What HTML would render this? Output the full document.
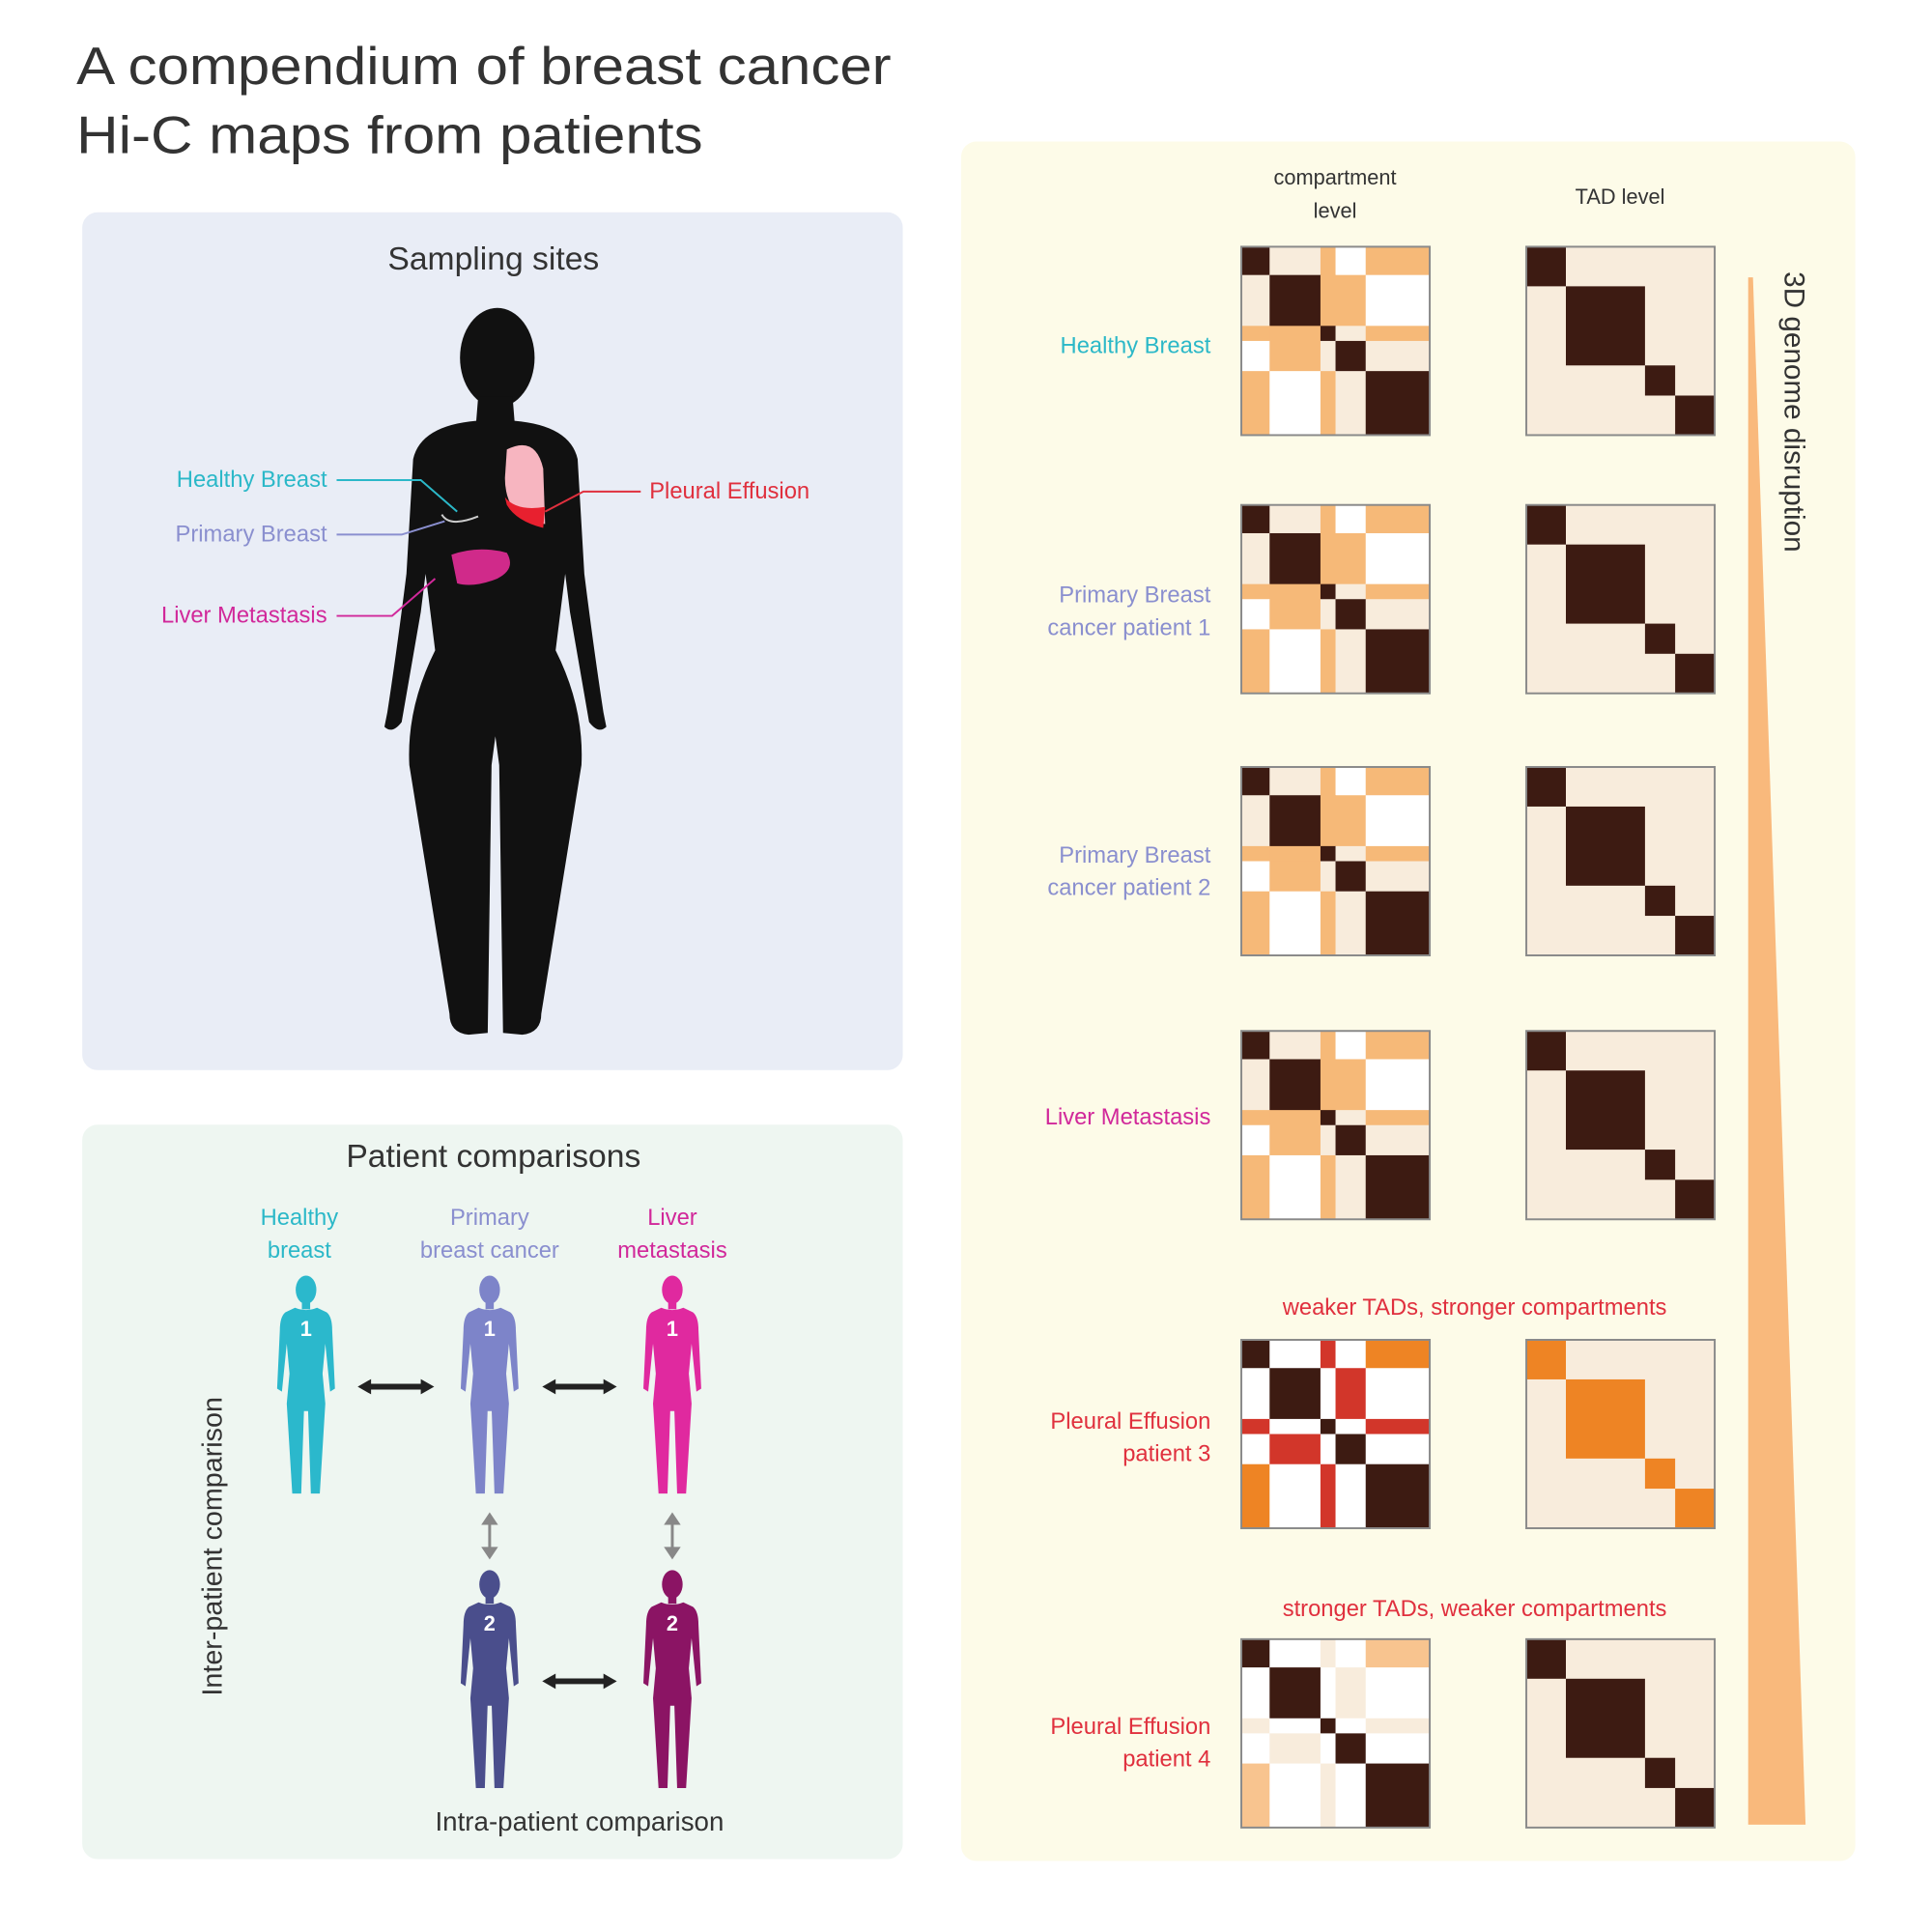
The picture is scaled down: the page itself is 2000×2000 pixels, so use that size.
<!DOCTYPE html>
<html><head><meta charset="utf-8"><style>
html,body{margin:0;padding:0;background:#fff;}
svg{display:block;font-family:"Liberation Sans",sans-serif;}
</style></head><body>
<svg id="s" width="2000" height="2000" viewBox="0 0 2000 2000" xmlns="http://www.w3.org/2000/svg">
<defs>
<symbol id="p" viewBox="0 0 100 300" preserveAspectRatio="none">
<ellipse cx="50" cy="20" rx="15" ry="19"/>
<rect x="44" y="34" width="12" height="12"/>
<path d="M34 44 Q50 50 66 44 L80 50 Q88 56 88 74 L92 152 L85 156 L78 92 L74 132 L78 172 L70 292 L57 292 L53 182 L47 182 L43 292 L30 292 L22 172 L26 132 L22 92 L15 156 L8 152 L12 74 Q12 56 20 50 Z"/>
</symbol>
</defs>
<g transform="scale(0.99)">
<text x="80" y="88" font-size="55" fill="#333" textLength="852" lengthAdjust="spacingAndGlyphs">A compendium of breast cancer</text>
<text x="80" y="160" font-size="55" fill="#333" textLength="655" lengthAdjust="spacingAndGlyphs">Hi-C maps from patients</text>

<rect x="86" y="222" width="858" height="897" rx="16" fill="#e9edf6"/>
<rect x="86" y="1176" width="858" height="768" rx="16" fill="#eef6f1"/>
<rect x="1005" y="148" width="935" height="1798" rx="16" fill="#fdfbe8"/>

<text x="516" y="282" font-size="34" fill="#333" text-anchor="middle">Sampling sites</text>
<g fill="#111">
<ellipse cx="520" cy="374" rx="39" ry="52"/>
<path d="M500 415 L498 440 Q440 445 432 480 L425 600 Q415 680 405 745 L402 760 Q410 768 420 755 L440 640 L445 600 L455 680 Q425 740 428 800 L470 1060 Q470 1080 490 1082 L510 1080 L514 800 L518 770 L522 800 L526 1080 L546 1082 Q566 1080 566 1060 L608 800 Q611 740 581 680 L591 600 L596 640 L616 755 Q626 768 634 760 L631 745 Q621 680 611 600 L604 480 Q596 445 538 440 L536 415 Z"/>
</g>
<path d="M530 470 Q560 455 568 490 L570 548 L550 545 Q528 530 528 500 Z" fill="#f7b5c0"/>
<path d="M528 520 Q540 535 570 530 L568 552 Q540 545 530 528 Z" fill="#e8202f"/>
<path d="M472 580 Q500 570 530 578 Q540 595 520 605 Q495 615 478 610 Z" fill="#d02a8a"/>
<path d="M462 538 Q470 552 500 540" stroke="#ccc" stroke-width="2" fill="none"/>
<text x="342" y="509" font-size="24" fill="#2bb8c8" text-anchor="end">Healthy Breast</text>
<polyline points="352,502 440,502 478,535" stroke="#2bb8c8" stroke-width="2" fill="none"/>
<text x="342" y="566" font-size="24" fill="#8a8fcf" text-anchor="end">Primary Breast</text>
<polyline points="352,559 420,559 465,545" stroke="#8a8fcf" stroke-width="2" fill="none"/>
<text x="342" y="651" font-size="24" fill="#d1289a" text-anchor="end">Liver Metastasis</text>
<polyline points="352,644 410,644 455,605" stroke="#d1289a" stroke-width="2" fill="none"/>
<text x="679" y="521" font-size="24" fill="#e0303e">Pleural Effusion</text>
<polyline points="670,514 610,514 570,535" stroke="#e0303e" stroke-width="2" fill="none"/>

<text x="516" y="1220" font-size="34" fill="#333" text-anchor="middle">Patient comparisons</text>
<g font-size="24" text-anchor="middle">
<text x="313" y="1281" fill="#2bb8c8">Healthy</text><text x="313" y="1315" fill="#2bb8c8">breast</text>
<text x="512" y="1281" fill="#8a8fcf">Primary</text><text x="512" y="1315" fill="#8a8fcf">breast cancer</text>
<text x="703" y="1281" fill="#d1289a">Liver</text><text x="703" y="1315" fill="#d1289a">metastasis</text>
</g>
<g transform="translate(0,-15)">
<use href="#p" x="284" y="1348" width="72" height="235" fill="#2bb8cc"/>
<use href="#p" x="476" y="1348" width="72" height="235" fill="#7d84c9"/>
<use href="#p" x="667" y="1348" width="72" height="235" fill="#e0299f"/>
<use href="#p" x="476" y="1656" width="72" height="235" fill="#4a4e8c"/>
<use href="#p" x="667" y="1656" width="72" height="235" fill="#8b1464"/>
<g font-size="22" fill="#fff" font-weight="bold" text-anchor="middle">
<text x="320" y="1412">1</text><text x="512" y="1412">1</text><text x="703" y="1412">1</text>
<text x="512" y="1720">2</text><text x="703" y="1720">2</text>
</g>
<g stroke="#222" stroke-width="6" fill="#222">
<line x1="384" y1="1465" x2="444" y2="1465"/><line x1="577" y1="1465" x2="635" y2="1465"/><line x1="577" y1="1773" x2="635" y2="1773"/>
</g>
<g fill="#222">
<path d="M374 1465 L388 1457 L388 1473Z"/><path d="M454 1465 L440 1457 L440 1473Z"/>
<path d="M567 1465 L581 1457 L581 1473Z"/><path d="M645 1465 L631 1457 L631 1473Z"/>
<path d="M567 1773 L581 1765 L581 1781Z"/><path d="M645 1773 L631 1765 L631 1781Z"/>
</g>
<g stroke="#888" stroke-width="3" fill="#888">
<line x1="512" y1="1604" x2="512" y2="1638"/><line x1="703" y1="1604" x2="703" y2="1638"/>
<path d="M512 1599 L506 1608 L518 1608Z"/><path d="M512 1643 L506 1634 L518 1634Z"/>
<path d="M703 1599 L697 1608 L709 1608Z"/><path d="M703 1643 L697 1634 L709 1634Z"/>
</g>
</g>
<text transform="translate(232,1617) rotate(-90)" font-size="29" fill="#333" text-anchor="middle">Inter-patient comparison</text>
<text x="606" y="1914" font-size="28" fill="#333" text-anchor="middle">Intra-patient comparison</text>

<g font-size="22" fill="#333" text-anchor="middle">
<text x="1396" y="193">compartment</text><text x="1396" y="228">level</text>
<text x="1694" y="213">TAD level</text>
</g>
<path d="M1828 290 L1833 290 L1888 1908 L1828 1908 Z" fill="#f9b97c"/>
<text transform="translate(1866,284) rotate(90)" font-size="30" fill="#333">3D genome disruption</text>
<g font-size="24" text-anchor="end">
<text x="1266" y="369" fill="#2bb8c8">Healthy Breast</text>
<text x="1266" y="630" fill="#8a8fcf">Primary Breast</text><text x="1266" y="664" fill="#8a8fcf">cancer patient 1</text>
<text x="1266" y="902" fill="#8a8fcf">Primary Breast</text><text x="1266" y="936" fill="#8a8fcf">cancer patient 2</text>
<text x="1266" y="1176" fill="#d1289a">Liver Metastasis</text>
<text x="1266" y="1494" fill="#e0303e">Pleural Effusion</text><text x="1266" y="1528" fill="#e0303e">patient 3</text>
<text x="1266" y="1813" fill="#e0303e">Pleural Effusion</text><text x="1266" y="1847" fill="#e0303e">patient 4</text>
</g>
<g font-size="24" fill="#e0303e" text-anchor="middle">
<text x="1542" y="1375">weaker TADs, stronger compartments</text>
<text x="1542" y="1690">stronger TADs, weaker compartments</text>
</g>
<g id="mats"></g>
</g>
</svg>
<script>
var D='#3d1b12',C='#f8ecdc',O='#f6b978',W='#ffffff',R='#d2362a',OO='#ee8424',OL='#f8c48f';
var N=[[D,C,O,W,O],[C,D,O,O,W],[O,O,D,C,O],[W,O,C,D,C],[O,W,O,C,D]];
var P3=[[D,W,R,W,OO],[W,D,W,R,W],[R,W,D,W,R],[W,R,W,D,W],[OO,W,R,W,D]];
var P4=[[D,W,C,W,OL],[W,D,W,C,W],[C,W,D,W,C],[W,C,W,D,W],[OL,W,C,W,D]];
var cb=[0,.15,.42,.5,.66,1], tb=[0,.21,.63,.79,1];
var tops=[258,528,802,1078,1401,1714], S=197, h='';
function r(x,y,w,hh,c){h+='<rect x="'+x+'" y="'+y+'" width="'+w+'" height="'+hh+'" fill="'+c+'"/>';}
tops.forEach(function(t,k){
 var M=k==4?P3:(k==5?P4:N), x0=1298;
 for(var i=0;i<5;i++)for(var j=0;j<5;j++){r(x0+cb[j]*S,t+cb[i]*S,(cb[j+1]-cb[j])*S+0.5,(cb[i+1]-cb[i])*S+0.5,M[i][j]);}
 h+='<rect x="'+x0+'" y="'+t+'" width="'+S+'" height="'+S+'" fill="none" stroke="#8a8a8a" stroke-width="2"/>';
 var x1=1596; r(x1,t,S,S,C); var tc=k==4?OO:D;
 for(var i=0;i<4;i++)r(x1+tb[i]*S,t+tb[i]*S,(tb[i+1]-tb[i])*S,(tb[i+1]-tb[i])*S,tc);
 h+='<rect x="'+x1+'" y="'+t+'" width="'+S+'" height="'+S+'" fill="none" stroke="#8a8a8a" stroke-width="2"/>';
});
document.getElementById('mats').innerHTML=h;
</script>
</body></html>
